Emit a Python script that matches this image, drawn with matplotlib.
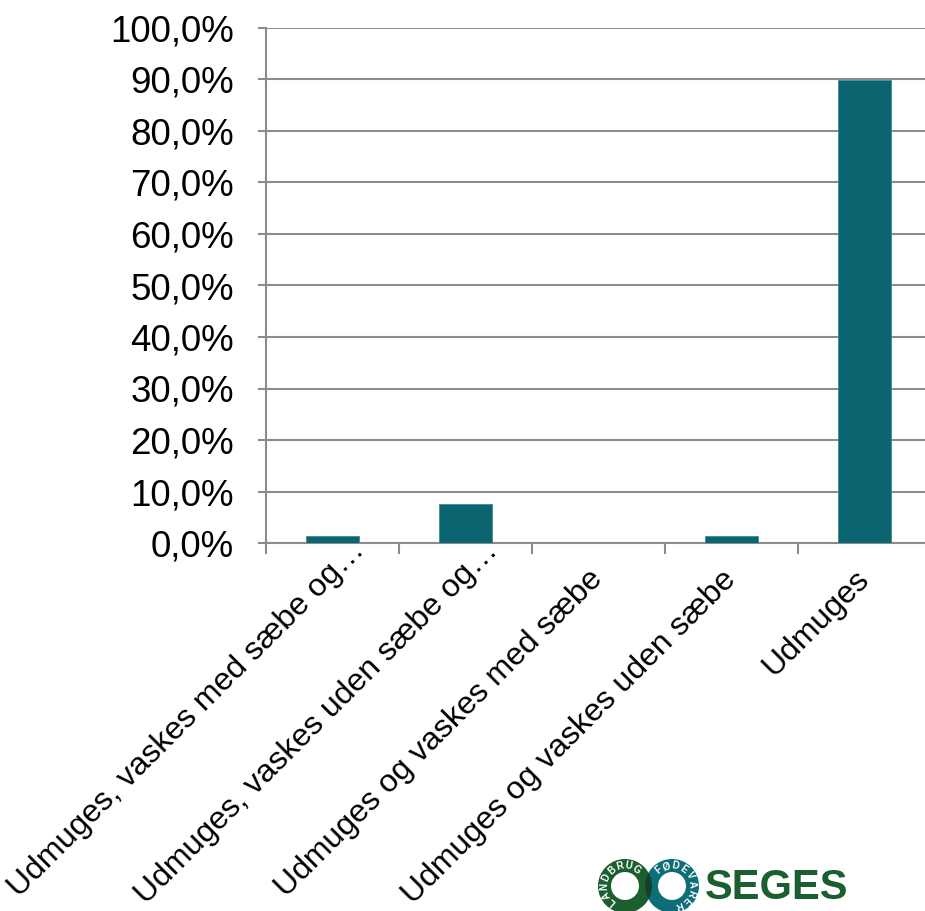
import matplotlib
matplotlib.use("Agg")
import numpy as np
import matplotlib.pyplot as plt
from matplotlib.patches import Wedge
from matplotlib.ticker import FuncFormatter, FixedLocator
from matplotlib.transforms import ScaledTranslation

plt.rcParams['font.family'] = ['Liberation Sans', 'DejaVu Sans']

categories = ["Udmuges, vaskes med sæbe og…",
              "Udmuges, vaskes uden sæbe og…",
              "Udmuges og vaskes med sæbe",
              "Udmuges og vaskes uden sæbe",
              "Udmuges"]
values = [1.3, 7.5, 0.0, 1.3, 89.9]
yticks = list(range(0, 101, 10))

fig = plt.figure(figsize=(9.25, 9.11), dpi=100)
ax = fig.add_axes([266/925, 368/911, 665/925, 515/911])

x = list(range(len(categories)))
ax.bar(x, values, width=0.40, color='#0b6570', edgecolor='#3f8a93', linewidth=0.6, zorder=3)
ax.set_xlim(-0.5, len(categories) - 0.5)
ax.set_ylim(0, 100)
ax.set_yticks(yticks)
ax.yaxis.set_major_formatter(FuncFormatter(lambda v, p: f"{v:.1f}".replace('.', ',') + "%"))
ax.grid(axis='y', color='#8c8c8c', linewidth=1.5, zorder=0)
ax.set_axisbelow(True)

for s in ['top', 'right']:
    ax.spines[s].set_visible(False)
for s in ['left', 'bottom']:
    ax.spines[s].set_color('#8c8c8c')
    ax.spines[s].set_linewidth(1.5)

ax.tick_params(axis='y', length=6, width=1.5, color='#8c8c8c', labelsize=26.5, pad=17)
ax.xaxis.set_major_locator(FixedLocator([i - 0.5 for i in range(len(categories) + 1)]))
ax.xaxis.set_ticklabels([])
ax.tick_params(axis='x', which='major', length=8, width=1.5, color='#8c8c8c')
ax.xaxis.set_minor_locator(FixedLocator(x))
labels = ax.set_xticklabels(categories, minor=True, rotation=45, ha='right', va='center',
                            rotation_mode='anchor', fontsize=23)
ax.tick_params(axis='x', which='minor', length=0, pad=23)
# truncated labels sit slightly higher/right in the reference
for lab in labels:
    if lab.get_text().endswith('…'):
        lab.set_transform(lab.get_transform() + ScaledTranslation(0.28, 0.29, fig.dpi_scale_trans))

# logo overlay in pixel coordinates
lax = fig.add_axes([0, 0, 1, 1], zorder=5)
lax.set_xlim(0, 925)
lax.set_ylim(911, 0)
lax.axis('off')
green = '#1d5e30'
teal = '#0e6e78'
c1 = (625, 886)
c2 = (672, 886)
R, W = 27, 13
w1 = Wedge(c1, R, 0, 360, width=W, facecolor=green, edgecolor='none')
w2 = Wedge(c2, R, 0, 360, width=W, facecolor=teal, edgecolor='none')
lax.add_patch(w1)
lax.add_patch(w2)
w3 = Wedge(c2, R, 0, 360, width=W, facecolor='#173f26', edgecolor='none')
lax.add_patch(w3)
w3.set_clip_path(w1)

def arc_text(center, text, start, step):
    rm = R - W / 2
    for i, ch in enumerate(text):
        a = np.deg2rad(start - i * step)
        px = center[0] + rm * np.cos(a)
        py = center[1] - rm * np.sin(a)
        lax.text(px, py, ch, color='white', fontsize=7, fontweight='bold',
                 ha='center', va='center', rotation=np.rad2deg(a) - 90)

arc_text(c1, "LANDBRUG", 230, 25)
arc_text(c2, "FØDEVARER", 130, 25)
lax.text(705, 888, "SEGES", fontsize=30, fontweight='bold', color='#1b5e30',
         ha='left', va='center')

fig.savefig("out.png", dpi=100)
